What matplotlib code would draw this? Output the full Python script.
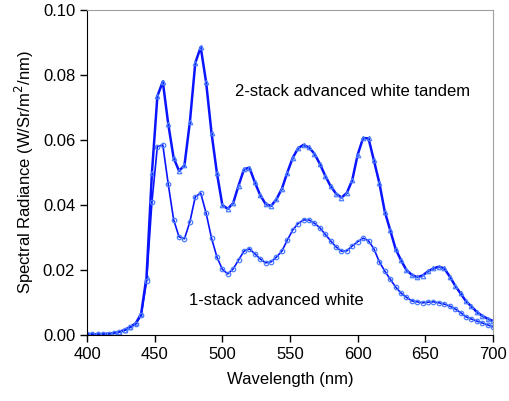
import matplotlib
matplotlib.use("Agg")
import matplotlib.pyplot as plt
import numpy as np

# wavelength grid (nm), 4 nm steps
wl = list(range(400, 701, 4))

# 1-stack advanced white
one_stack = [0.0003, 0.0002, 0.0002, 0.0003, 0.0004, 0.0006, 0.0010, 0.0015, 0.0024, 0.0034,
             0.0060, 0.0165, 0.0410, 0.0580, 0.0585, 0.0465, 0.0355, 0.0302, 0.0296, 0.0348,
             0.0425, 0.0437, 0.0375, 0.0298, 0.0240, 0.0202, 0.0188, 0.0203, 0.0231, 0.0258,
             0.0265, 0.0250, 0.0234, 0.0222, 0.0225, 0.0240, 0.0258, 0.0292, 0.0323, 0.0343,
             0.0354, 0.0354, 0.0344, 0.0330, 0.0310, 0.0290, 0.0271, 0.0258, 0.0259, 0.0274,
             0.0287, 0.0298, 0.0290, 0.0265, 0.0225, 0.0197, 0.0172, 0.0148, 0.0129, 0.0116,
             0.0105, 0.0102, 0.0099, 0.0101, 0.0102, 0.0099, 0.0095, 0.0089, 0.0080, 0.0069,
             0.0056, 0.0049, 0.0043, 0.0037, 0.0031, 0.0025]

# 2-stack advanced white tandem
two_stack = [0.0003, 0.0002, 0.0002, 0.0003, 0.0004, 0.0006, 0.0010, 0.0016, 0.0025, 0.0036,
             0.0065, 0.0180, 0.0500, 0.0735, 0.0780, 0.0650, 0.0545, 0.0505, 0.0522, 0.0655,
             0.0837, 0.0886, 0.0778, 0.0622, 0.0498, 0.0400, 0.0388, 0.0406, 0.0460, 0.0510,
             0.0515, 0.0470, 0.0430, 0.0403, 0.0397, 0.0418, 0.0450, 0.0500, 0.0545, 0.0575,
             0.0585, 0.0577, 0.0558, 0.0527, 0.0490, 0.0458, 0.0435, 0.0423, 0.0437, 0.0477,
             0.0555, 0.0606, 0.0605, 0.0537, 0.0468, 0.0380, 0.0323, 0.0265, 0.0230, 0.0200,
             0.0185, 0.0178, 0.0183, 0.0196, 0.0205, 0.0210, 0.0205, 0.0180, 0.0152, 0.0128,
             0.0104, 0.0088, 0.0071, 0.0059, 0.0050, 0.0043]

plt.rcParams['font.family'] = ['Liberation Sans', 'DejaVu Sans']

fig = plt.figure(figsize=(5.1, 4.01), dpi=100)
ax = fig.add_axes([0.1706, 0.1646, 0.7961, 0.8104])

ax.plot(wl, two_stack, color='#0a14ff', linewidth=1.8, marker='^', markersize=3.2,
        markerfacecolor='none', markeredgecolor='#4a7dff', markeredgewidth=0.9)
ax.plot(wl, one_stack, color='#0a14ff', linewidth=1.2, marker='o', markersize=3.2,
        markerfacecolor='none', markeredgecolor='#4a7dff', markeredgewidth=0.9)

ax.text(596, 0.0748, "2-stack advanced white tandem", fontsize=12, ha='center', va='center')
ax.text(540, 0.0105, "1-stack advanced white", fontsize=12, ha='center', va='center')

ax.set_xlim(400, 700)
ax.set_ylim(0, 0.1)
ax.set_xticks(np.arange(400, 701, 50))
ax.set_yticks(np.arange(0, 0.101, 0.02))
ax.set_yticklabels(["%.2f" % v for v in np.arange(0, 0.101, 0.02)])
ax.tick_params(direction='out', length=5, labelsize=12, width=1)
ax.set_xlabel("Wavelength (nm)", fontsize=12, labelpad=7)
ax.set_ylabel("Spectral Radiance (W/Sr/m$^2$/nm)", fontsize=12, labelpad=5)

for s in ['top', 'right']:
    ax.spines[s].set_color('#a0a0a0')
for s in ['left', 'bottom']:
    ax.spines[s].set_color('black')

plt.savefig("out.png", dpi=100)
